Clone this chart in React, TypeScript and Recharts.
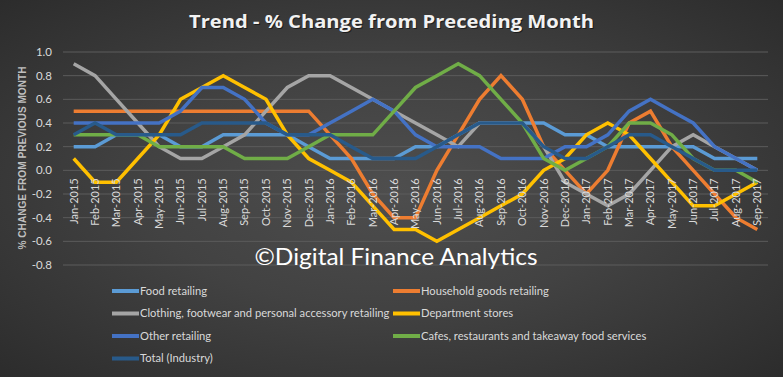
import React from "react";
import { CartesianGrid, Line, LineChart, XAxis, YAxis } from "recharts";

const months = [
  "Jan-2015", "Feb-2015", "Mar-2015", "Apr-2015", "May-2015", "Jun-2015",
  "Jul-2015", "Aug-2015", "Sep-2015", "Oct-2015", "Nov-2015", "Dec-2015",
  "Jan-2016", "Feb-2016", "Mar-2016", "Apr-2016", "May-2016", "Jun-2016",
  "Jul-2016", "Aug-2016", "Sep-2016", "Oct-2016", "Nov-2016", "Dec-2016",
  "Jan-2017", "Feb-2017", "Mar-2017", "Apr-2017", "May-2017", "Jun-2017",
  "Jul-2017", "Aug-2017", "Sep-2017",
];

const foodRetailing = [0.2, 0.2, 0.3, 0.3, 0.3, 0.2, 0.2, 0.3, 0.3, 0.3, 0.3, 0.2, 0.1, 0.1, 0.1, 0.1, 0.2, 0.2, 0.3, 0.4, 0.4, 0.4, 0.4, 0.3, 0.3, 0.2, 0.2, 0.2, 0.2, 0.2, 0.1, 0.1, 0.1];
const householdGoods = [0.5, 0.5, 0.5, 0.5, 0.5, 0.5, 0.5, 0.5, 0.5, 0.5, 0.5, 0.5, 0.3, 0.1, -0.2, -0.4, -0.4, 0.0, 0.3, 0.6, 0.8, 0.6, 0.2, 0.0, -0.2, 0.0, 0.4, 0.5, 0.2, 0.0, -0.2, -0.4, -0.5];
const clothing = [0.9, 0.8, 0.6, 0.4, 0.2, 0.1, 0.1, 0.2, 0.3, 0.5, 0.7, 0.8, 0.8, 0.7, 0.6, 0.5, 0.4, 0.3, 0.2, 0.4, 0.4, 0.4, 0.2, -0.1, -0.2, -0.3, -0.2, 0.0, 0.2, 0.3, 0.2, 0.1, 0.0];
const departmentStores = [0.1, -0.1, -0.1, 0.1, 0.3, 0.6, 0.7, 0.8, 0.7, 0.6, 0.3, 0.1, 0.0, -0.1, -0.3, -0.5, -0.5, -0.6, -0.5, -0.4, -0.3, -0.2, 0.0, 0.1, 0.3, 0.4, 0.3, 0.1, -0.1, -0.3, -0.3, -0.2, -0.1];
const otherRetailing = [0.4, 0.4, 0.4, 0.4, 0.4, 0.5, 0.7, 0.7, 0.6, 0.4, 0.3, 0.3, 0.4, 0.5, 0.6, 0.5, 0.3, 0.2, 0.2, 0.2, 0.1, 0.1, 0.1, 0.2, 0.2, 0.3, 0.5, 0.6, 0.5, 0.4, 0.2, 0.1, 0.0];
const cafes = [0.3, 0.3, 0.3, 0.3, 0.2, 0.2, 0.2, 0.2, 0.1, 0.1, 0.1, 0.2, 0.3, 0.3, 0.3, 0.5, 0.7, 0.8, 0.9, 0.8, 0.6, 0.4, 0.1, 0.0, 0.1, 0.2, 0.4, 0.4, 0.3, 0.1, 0.0, 0.0, -0.1];
const totalIndustry = [0.3, 0.4, 0.3, 0.3, 0.3, 0.3, 0.4, 0.4, 0.4, 0.4, 0.3, 0.3, 0.3, 0.2, 0.1, 0.1, 0.1, 0.2, 0.3, 0.4, 0.4, 0.4, 0.2, 0.1, 0.1, 0.2, 0.3, 0.3, 0.2, 0.1, 0.0, 0.0, 0.0];

const yTicks = [-0.8, -0.6, -0.4, -0.2, 0.0, 0.2, 0.4, 0.6, 0.8, 1.0];

const series = [
  { key: "food", name: "Food retailing", color: "#5B9BD5", values: foodRetailing },
  { key: "household", name: "Household goods retailing", color: "#ED7D31", values: householdGoods },
  { key: "clothing", name: "Clothing, footwear and personal accessory retailing", color: "#A5A5A5", values: clothing },
  { key: "dept", name: "Department stores", color: "#FFC000", values: departmentStores },
  { key: "other", name: "Other retailing", color: "#4472C4", values: otherRetailing },
  { key: "cafes", name: "Cafes, restaurants and takeaway food services", color: "#70AD47", values: cafes },
  { key: "total", name: "Total (Industry)", color: "#285A8A", values: totalIndustry },
];

const data = months.map((month, i) => {
  const row: Record<string, string | number> = { month };
  series.forEach((s) => {
    row[s.key] = s.values[i];
  });
  return row;
});

const W = 783;
const H = 377;
const TOP = 52;
const BOTTOM = 265;
const Y_MIN = -0.8;
const Y_MAX = 1.0;
// Excel puts the category labels on the zero line, not at the bottom
const zeroY = TOP + ((BOTTOM - TOP) * Y_MAX) / (Y_MAX - Y_MIN);

const tickFont = "Lato, 'Liberation Sans', sans-serif";

function MonthTick(props: any) {
  const { x, payload } = props;
  const y = zeroY + 8;
  return (
    <text
      x={x}
      y={y}
      transform={`rotate(-90, ${x}, ${y})`}
      textAnchor="end"
      dy="0.35em"
      fill="#d9d9d9"
      fontSize={11}
      fontFamily={tickFont}
    >
      {payload.value}
    </text>
  );
}

export default function App() {
  return (
    <div
      style={{
        position: "absolute",
        left: 0,
        top: 0,
        width: W,
        height: H,
        background:
          "radial-gradient(ellipse at 50% 50%, #4e4e4e 0%, #424242 45%, #2c2c2c 100%)",
      }}
    >
      <LineChart
        width={W}
        height={H}
        data={data}
        margin={{ top: TOP, right: 15, bottom: H - BOTTOM - 30, left: 23 }}
      >
        <CartesianGrid vertical={false} stroke="#5c5c5c" strokeWidth={1} />
        <XAxis
          dataKey="month"
          interval={0}
          axisLine={false}
          tickLine={false}
          height={30}
          padding={{ left: 10.7, right: 10.7 }}
          tick={<MonthTick />}
        />
        <YAxis
          width={40}
          domain={[Y_MIN, Y_MAX]}
          ticks={yTicks}
          axisLine={false}
          tickLine={false}
          tickSize={0}
          tickMargin={11}
          tickFormatter={(v: number) => v.toFixed(1)}
          tick={{ fill: "#d9d9d9", fontSize: 11.5, fontFamily: tickFont }}
        />
        {series.map((s) => (
          <Line
            key={s.key}
            type="linear"
            dataKey={s.key}
            name={s.name}
            stroke={s.color}
            strokeWidth={3.5}
            dot={false}
            activeDot={false}
            isAnimationActive={false}
          />
        ))}
      </LineChart>

      <svg
        width={W}
        height={H}
        style={{ position: "absolute", left: 0, top: 0, pointerEvents: "none" }}
      >
        {/* title with a soft shadow */}
        <text
          x={W / 2 + 1}
          y={29}
          textAnchor="middle"
          fontFamily="'Open Sans', sans-serif"
          fontWeight="bold"
          fontSize={18}
          fill="#000"
          opacity={0.5}
          textLength={405}
          lengthAdjust="spacingAndGlyphs"
        >
          Trend - % Change from Preceding Month
        </text>
        <text
          x={W / 2}
          y={28}
          textAnchor="middle"
          fontFamily="'Open Sans', sans-serif"
          fontWeight="bold"
          fontSize={18}
          fill="#f2f2f2"
          textLength={405}
          lengthAdjust="spacingAndGlyphs"
        >
          Trend - % Change from Preceding Month
        </text>

        <text
          x={22}
          y={158}
          transform="rotate(-90, 22, 158)"
          textAnchor="middle"
          dy="0.35em"
          fontFamily="'Liberation Sans', sans-serif"
          fontWeight="bold"
          fontSize={10.5}
          fill="#bfbfbf"
          textLength={183}
          lengthAdjust="spacingAndGlyphs"
        >
          % CHANGE FROM PREVIOUS MONTH
        </text>

        <text
          x={396}
          y={265}
          textAnchor="middle"
          fontFamily="Lato, sans-serif"
          fontSize={23}
          fill="#ffffff"
          textLength={283}
          lengthAdjust="spacingAndGlyphs"
        >
          ©Digital Finance Analytics
        </text>

        {series.map((s, i) => {
          const col = i % 2;
          const row = Math.floor(i / 2);
          const lx = col === 0 ? 112 : 393;
          const ly = 291 + row * 22.5;
          return (
            <g key={s.key}>
              <line x1={lx} x2={lx + 27} y1={ly} y2={ly} stroke={s.color} strokeWidth={4} />
              <text
                x={lx + 28}
                y={ly}
                dy="0.35em"
                fontFamily={tickFont}
                fontSize={11.2}
                fill="#d9d9d9"
              >
                {s.name}
              </text>
            </g>
          );
        })}
      </svg>
    </div>
  );
}
